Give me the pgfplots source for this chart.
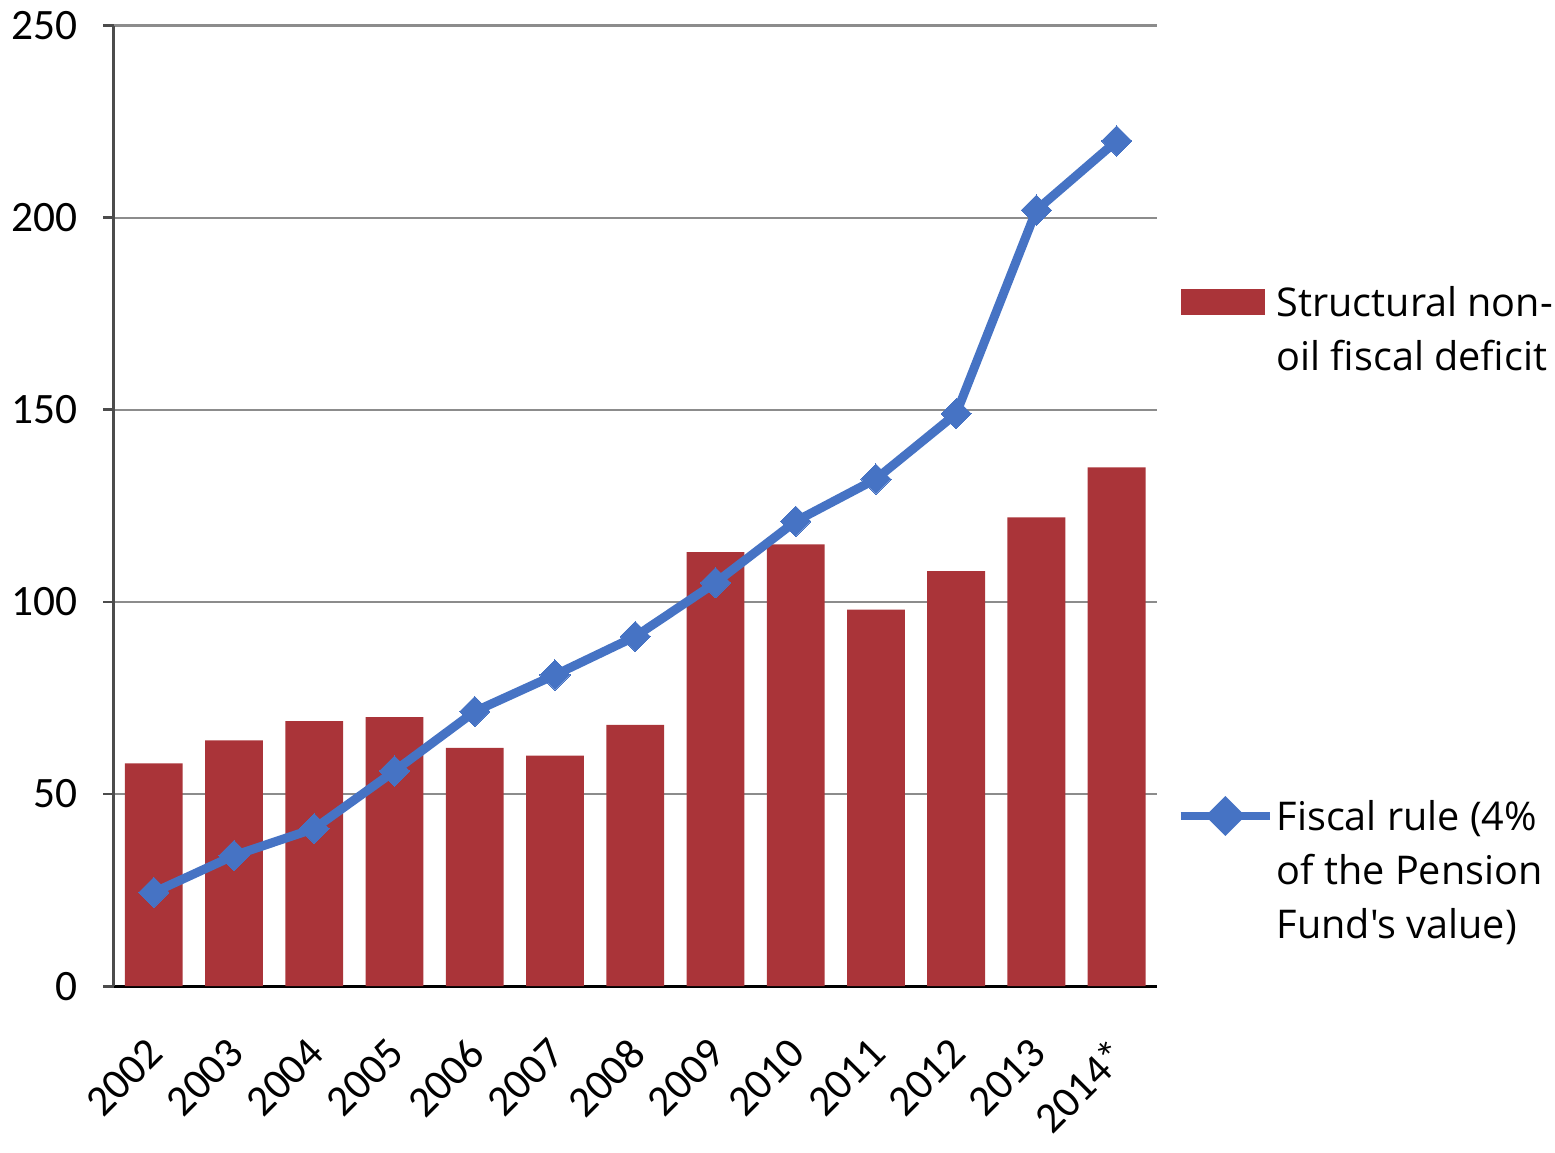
\documentclass[border=0pt]{standalone}
\usepackage{fontspec}
\setmainfont{Carlito}
\newfontfamily\legfont{Open Sans}
\usepackage{pgfplots}
\pgfplotsset{compat=1.18}

\definecolor{barred}{RGB}{170,52,57}
\definecolor{lineblue}{RGB}{70,115,196}
\definecolor{gridgrey}{RGB}{140,140,140}

\begin{document}
\begin{tikzpicture}
\begin{axis}[
    width=303pt, height=279pt, scale only axis,
    xmin=-0.5, xmax=12.5,
    ymin=0, ymax=250,
    ytick={0,50,...,250},
    xtick={0,...,12},
    xticklabels={2002,2003,2004,2005,2006,2007,2008,2009,2010,2011,2012,2013,2014*},
    axis x line*=bottom, axis y line*=left,
    x axis line style={black, line width=0.8pt, -},
    y axis line style={black!70, line width=0.8pt, -},
    ymajorgrids, grid style={gridgrey, line width=0.7pt},
    major tick length=3pt,
    xtick style={draw=none},
    ytick style={black!70, line width=0.8pt},
    tick align=outside,
    tick label style={font=\fontsize{12.6}{15}\selectfont},
    /pgf/number format/assume math mode=true,
    yticklabel style={xshift=-4pt},
    xticklabel style={xshift=-2.4pt, yshift=-6.6pt, rotate=45, anchor=north east},
    legend style={at={(1.018,0.745)}, anchor=north west, draw=none, fill=none,
        font=\legfont\fontsize{11.5}{15.7}\selectfont,
        row sep=133pt, inner sep=0pt,
        nodes={inner xsep=0.6pt},
        cells={anchor=base west}},
    legend cell align=left,
]
\addplot[ybar, bar width=16.8pt, fill=barred, draw=none,
    legend image code/.code={\fill[barred] (0pt,-4.5pt) rectangle (24.6pt,3.2pt);}]
coordinates {
(0,58) (1,64) (2,69) (3,70) (4,62) (5,60) (6,68)
(7,113) (8,115) (9,98) (10,108) (11,122) (12,135)
};
\addlegendentry{\begin{tabular}[t]{@{}l@{}}Structural non-\\oil fiscal deficit\end{tabular}}
\addplot[lineblue, line width=2.6pt, mark=square*, mark size=3.1pt,
    mark options={rotate=45, solid, fill=lineblue, line width=0pt},
    legend image code/.code={
        \draw[lineblue, line width=2.6pt] (0pt,-0.5pt) -- (26pt,-0.5pt);
        \fill[lineblue, rotate around={45:(13pt,-0.5pt)}] (10.2pt,-3.3pt) rectangle (15.8pt,2.3pt);}]
coordinates {
(0,24.4) (1,34) (2,41) (3,56) (4,71.5) (5,81) (6,91)
(7,105) (8,121) (9,132) (10,149) (11,202) (12,220)
};
\addlegendentry{\begin{tabular}[t]{@{}l@{}}Fiscal rule (4\%\\of the Pension\\Fund's value)\end{tabular}}
\end{axis}
\end{tikzpicture}
\end{document}
